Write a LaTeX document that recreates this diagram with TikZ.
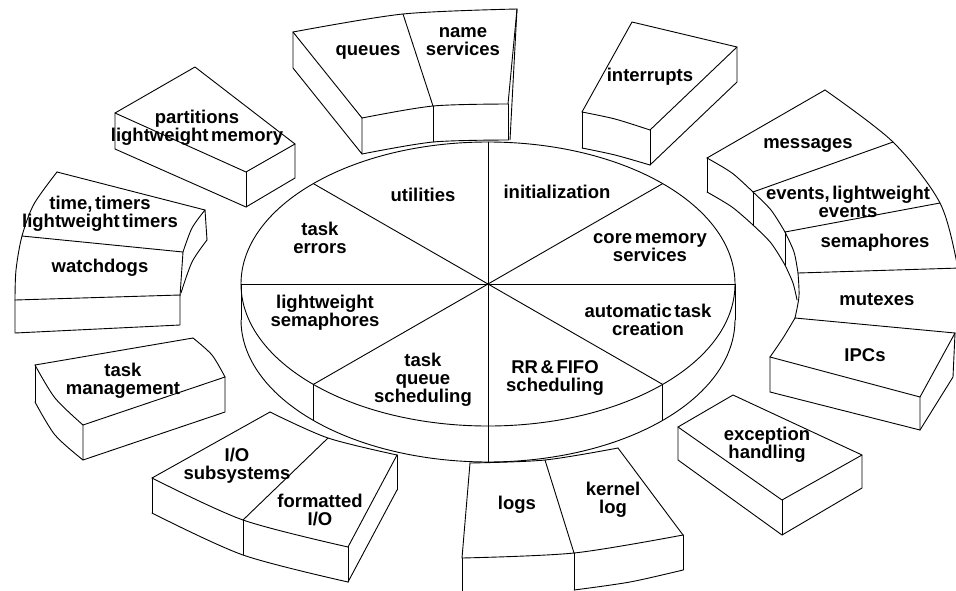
\documentclass[tikz,border=0pt]{standalone}
\usepackage{fontspec}
\setmainfont{Liberation Sans}

\newcommand{\lblfont}{\fontsize{18.5}{18}\selectfont\bfseries\spaceskip=0.14em plus 0.05em\relax}
\tikzset{
	blk/.style={draw=black, line width=0.9pt, line join=round, line cap=round},
	lbl/.style={font=\lblfont, align=center, inner sep=0pt}
}

\begin{document}
\begin{tikzpicture}[x=1pt,y=-1pt]
	\useasboundingbox (0,0) rectangle (956,590);
	\clip (0,0) rectangle (956,590);

	% the core disc
	\coordinate (c) at (488,284);
	\begin{scope}[every path/.style={blk}]
		\draw (c) ellipse [x radius=247, y radius=142];
		\foreach \a in {0,45,...,315}
			\draw (c) -- ({488+247*cos(\a)},{284+142*sin(\a)});
		\foreach \a in {0,45,90,135,180}
			\draw ({488+247*cos(\a)},{284+142*sin(\a)}) -- ++(0,36);
		\draw plot[domain=0:180, samples=90] ({488+247*cos(\x)},{320+142*sin(\x)});
	\end{scope}

	\begin{scope}[every path/.style={blk}]
		% partitions
		\draw (115,113) -- (195,67) -- (295,144) -- (246,172) -- cycle;
		\draw (115,113) -- (115,149) -- (246,207) -- (295,178) -- (295,144);
		\draw (246,172) -- (246,207);

		% timers and watchdogs
		\draw plot[smooth] coordinates {(57,172) (34,204) (22,236) (16,270) (15,300)};
		\draw (57,172) -- (205,210);
		\draw plot[smooth] coordinates {(205,210) (192,228) (183,252)};
		\draw (205,210) -- (207,240);
		\draw plot[smooth] coordinates {(207,240) (192,262) (181,293)};
		\draw (22,236) -- (183,252) -- (180,296);
		\draw (15,300) -- (180,295);
		\draw (15,300) -- (15,333) -- (180,325) -- (180,295);

		% queues and name services
		\draw plot[smooth] coordinates {(293,32) (403,14) (517,9)};
		\draw (293,32) -- (362,118);
		\draw (403,14) -- (433,106);
		\draw plot[smooth] coordinates {(362,118) (433,106) (508,104)};
		\draw (517,9) -- (508,104);
		\draw (517,9) -- (510,140);
		\draw (293,32) -- (293,68) -- (362,154) -- (362,118);
		\draw plot[smooth] coordinates {(362,154) (433,142) (508,140)};
		\draw (433,106) -- (433,142);
		\draw (508,104) -- (508,140);

		% interrupts
		\draw (582,112) -- (632,22) -- (737,47) -- (650,130);
		\draw plot[smooth] coordinates {(582,112) (615,119) (650,130)};
		\draw (582,112) -- (582,148);
		\draw (650,130) -- (650,165);
		\draw plot[smooth] coordinates {(582,148) (615,155) (650,165)};
		\draw (737,47) -- (737,82) -- (650,165);

		% messages ... IPCs
		\draw plot[smooth] coordinates {(825,90) (893,142) (940,203) (958,268) (962,300)};
		\draw (707,158) -- (825,90);
		\draw (753,192) -- (893,142);
		\draw (785,232) -- (940,203);
		\draw (798,273) -- (960,268);
		\draw (795,318) -- (955,333);
		\draw plot[smooth] coordinates {(707,158) (732,173) (753,192)};
		\draw plot[smooth] coordinates {(753,192) (771,210) (785,232)};
		\draw plot[smooth] coordinates {(785,232) (794,252) (798,273)};
		\draw plot[smooth] coordinates {(798,273) (799,296) (795,318)};
		\draw plot[smooth] coordinates {(795,318) (783,338) (770,357)};
		\draw (707,158) -- (707,192);
		\draw plot[smooth] coordinates {(707,192) (732,207) (753,225)};
		\draw (753,192) -- (753,225);
		\draw plot[smooth] coordinates {(753,225) (771,243) (785,265)};
		\draw (785,232) -- (785,265);
		\draw plot[smooth] coordinates {(785,265) (793,283) (797,300)};
		\draw (955,333) -- (920,397) -- (770,357);
		\draw (770,357) -- (770,392) -- (920,430) -- (920,397);
		\draw (920,430) -- (953,377) -- (955,333);

		% exception handling
		\draw (678,427) -- (733,395) -- (862,455) -- (782,500) -- cycle;
		\draw (678,427) -- (678,460) -- (782,535) -- (862,488) -- (862,455);
		\draw (782,500) -- (782,535);

		% logs
		\draw plot[smooth] coordinates {(470,463) (545,460) (618,448)};
		\draw (470,463) -- (462,558);
		\draw (545,460) -- (574,553);
		\draw (618,448) -- (683,535);
		\draw plot[smooth] coordinates {(462,558) (574,553) (683,535)};
		\draw (462,558) -- (462,592);
		\draw (574,553) -- (574,590);
		\draw (683,535) -- (683,570);
		\draw plot[smooth] coordinates {(574,590) (630,582) (683,570)};

		% I/O
		\draw (270,412) -- (152,478);
		\draw plot[smooth] coordinates {(270,412) (328,438) (397,455)};
		\draw plot[smooth] coordinates {(152,478) (243,520) (348,547)};
		\draw (397,455) -- (348,547);
		\draw (328,438) -- (243,520);
		\draw (152,478) -- (152,513);
		\draw (243,520) -- (243,555);
		\draw (348,547) -- (348,582);
		\draw (397,455) -- (397,490);
		\draw plot[smooth] coordinates {(152,513) (243,555) (348,582)};
		\draw (348,582) -- (397,490);

		% task management
		\draw (35,365) -- (193,338);
		\draw plot[smooth] coordinates {(193,338) (212,355) (225,377)};
		\draw (225,377) -- (83,425);
		\draw plot[smooth] coordinates {(35,365) (55,398) (83,425)};
		\draw (35,365) -- (35,402);
		\draw plot[smooth] coordinates {(35,402) (55,435) (83,460)};
		\draw (83,425) -- (83,460) -- (225,412) -- (225,377);
	\end{scope}

	\begin{scope}[every node/.style={lbl}]
		\node (util) at (423,195) {utilities};
		\node (init) at (557,192) {initialization};
		\node (terr) at (320,238) {task\\errors};
		\node (cmem) at (650,248) {core memory\\services};
		\node (lsem) at (325,313) {lightweight\\semaphores};
		\node (auto) at (648,320) {automatic task\\creation};
		\node (tqs)  at (423,380) {task\\queue\\scheduling};
		\node (rr)   at (555,378) {RR \& FIFO\\scheduling};

		\node (queues) at (368,52)  {queues};
		\node (names)  at (463,42)  {name\\services};
		\node (intr)   at (650,77)  {interrupts};
		\node (part)   at (197,128) {partitions\\lightweight memory};
		\node (timers) at (100,214) {time, timers\\lightweight timers};
		\node (wdog)   at (100,268) {watchdogs};
		\node (msg)    at (808,145) {messages};
		\node (evt)    at (848,202) {events, lightweight\\events};
		\node (sem)    at (875,243) {semaphores};
		\node (mutex)  at (877,300) {mutexes};
		\node (ipc)    at (865,355) {IPCs};
		\node (exc)    at (767,445) {exception\\handling};
		\node (klog)   at (613,500) {kernel\\log};
		\node (logs)   at (517,505) {logs};
		\node (fio)    at (320,510) {formatted\\I/O};
		\node (iosub)  at (237,466) {I/O\\subsystems};
		\node (tmgmt)  at (123,381) {task\\management};
	\end{scope}
\end{tikzpicture}
\end{document}
